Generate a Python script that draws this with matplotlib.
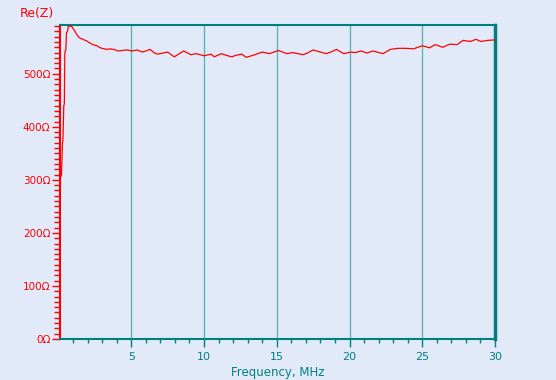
import numpy as np
import matplotlib

matplotlib.use('Agg')
import matplotlib.pyplot as plt
from matplotlib.ticker import MultipleLocator, FuncFormatter

# ================ data ================
freq_mhz = [0.10, 0.13, 0.20, 0.27, 0.30, 0.36, 0.40, 0.43, 0.50, 0.55, 0.62,
            0.66, 0.80, 0.92, 1.00, 1.13, 1.25, 1.36, 1.50, 1.59, 1.75, 1.94,
            2.10, 2.29, 2.45, 2.63, 2.80, 2.98, 3.15, 3.32, 3.55, 3.80, 4.10,
            4.40, 4.70, 5.05, 5.40, 5.75, 6.00, 6.30, 6.55, 6.80, 7.15, 7.50,
            7.95, 8.25, 8.60, 9.10, 9.45, 10.0, 10.5, 10.7, 11.2, 11.5, 11.9,
            12.2, 12.6, 12.9, 13.5, 14.0, 14.5, 15.1, 15.4, 15.7, 16.1, 16.8,
            17.1, 17.5, 18.0, 18.4, 18.8, 19.1, 19.6, 20.1, 20.4, 20.8, 21.2,
            21.6, 22.3, 22.8, 23.3, 23.9, 24.4, 25.0, 25.5, 25.9, 26.4, 26.9,
            27.4, 27.8, 28.3, 28.7, 29.0, 29.5, 30.0]
re_z_ohm = [140, 305, 308, 370, 374, 440, 443, 540, 545, 578, 580,
            589, 590, 589, 585, 580, 574, 570, 567, 566, 564, 562,
            559, 556, 554, 553, 550, 548, 547, 546, 547, 546, 543,
            544, 545, 543, 545, 541, 543, 546, 540, 537, 539, 541,
            532, 537, 543, 536, 538, 534, 537, 532, 538, 535, 532,
            535, 537, 531, 536, 541, 538, 544, 541, 538, 540, 536,
            539, 545, 541, 538, 542, 546, 538, 541, 540, 543, 539,
            543, 538, 546, 548, 548, 547, 553, 549, 555, 550, 556,
            555, 563, 561, 565, 561, 563, 564]

BG = '#e2eafa'
TEAL = '#007f7f'
GRID = '#5fb3b3'
RED = '#ff0000'

# =============================================
Figure = plt.figure(figsize=(5.56, 3.80), dpi=100, facecolor=BG)
ax = Figure.add_axes([60 / 556, 41 / 380, 435 / 556, 314 / 380])
ax.set_facecolor(BG)

ax.plot(freq_mhz, re_z_ohm, color=RED, linewidth=0.9, zorder=3)

ax.set_xlim(0.1, 30)
ax.set_ylim(0, 592)

# x axis
ax.xaxis.set_major_locator(MultipleLocator(5))
ax.xaxis.set_minor_locator(MultipleLocator(1))
ax.xaxis.set_major_formatter(FuncFormatter(lambda x, pos: '%d' % x if x > 0 else ''))
ax.tick_params(axis='x', which='major', length=6, width=1.0, color=TEAL,
               labelcolor=TEAL, labelsize=8, direction='out', pad=3)
ax.tick_params(axis='x', which='minor', length=3, width=1.0, color=TEAL,
               direction='out')
ax.grid(axis='x', which='major', color=GRID, linewidth=1.0)

# y axis
ax.yaxis.set_major_locator(MultipleLocator(100))
ax.yaxis.set_minor_locator(MultipleLocator(10))
ax.yaxis.set_major_formatter(FuncFormatter(lambda y, pos: '%dΩ' % y))
ax.tick_params(axis='y', which='major', length=6, width=1.0, color=RED,
               labelcolor=RED, labelsize=7.5, direction='out', pad=1)
ax.tick_params(axis='y', which='minor', length=4, width=1.0, color=RED,
               direction='out')

ax.spines['left'].set_color(RED)
ax.spines['left'].set_linewidth(1.5)
for s in ('bottom', 'top'):
    ax.spines[s].set_color(TEAL)
    ax.spines[s].set_linewidth(1.5)
ax.spines['right'].set_color(TEAL)
ax.spines['right'].set_linewidth(2.5)

ax.set_xlabel('Frequency, MHz', color=TEAL, fontsize=8.5, labelpad=3)
Figure.text(20 / 556, 1 - 13 / 380, 'Re(Z)', color=RED, fontsize=9,
            ha='left', va='center')

Figure.savefig('out.png', dpi=100, facecolor=BG)
